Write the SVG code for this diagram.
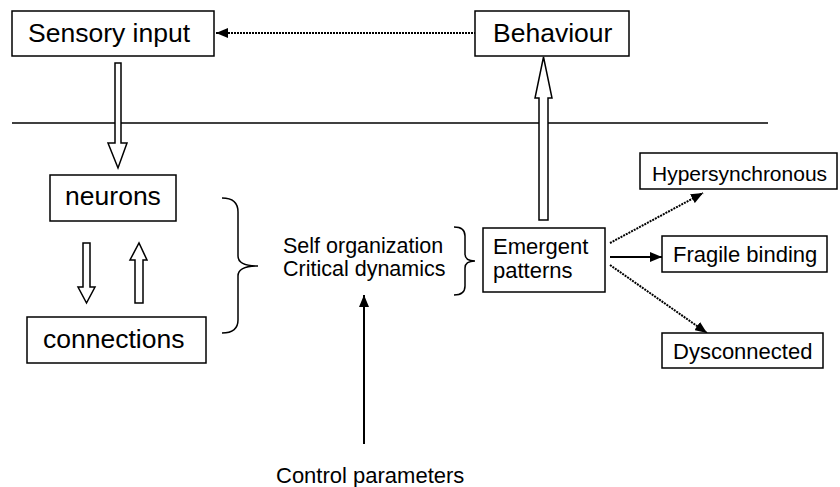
<svg xmlns="http://www.w3.org/2000/svg" width="840" height="487" viewBox="0 0 840 487">
<style>
.box{fill:#fff;stroke:#000;stroke-width:1.5}
.t{font-family:"Liberation Sans",Arial,sans-serif;fill:#000}
.big{font-size:26.5px}
.mid{font-size:22px}
.hollow{fill:#fff;stroke:#000;stroke-width:1.5;stroke-linejoin:miter}
.ln{fill:none;stroke:#000;stroke-width:2}
.dot{fill:none;stroke:#000;stroke-width:2;stroke-dasharray:2 1}
.brace{fill:none;stroke:#000;stroke-width:1.5}
</style>
<defs>
<marker id="ah" markerUnits="userSpaceOnUse" markerWidth="12" markerHeight="10" refX="12" refY="5" orient="auto" viewBox="0 0 12 10">
<path d="M0,0 L12,5 L0,10 z" fill="#000" stroke="none"/>
</marker>
</defs>
<line x1="12" y1="123" x2="768" y2="123" stroke="#000" stroke-width="1.5"/>
<g id="connectors">
<path class="dot" d="M476,33 L216,33" marker-end="url(#ah)"/>
<path class="hollow" d="M115,63 L121,63 L121,143 L127,143 L118,168 L108,143 L115,143 z"/>
<path class="hollow" d="M539,220 L548,220 L548,98 L552,98 L543.5,57 L535,98 L539,98 z"/>
<path class="hollow" d="M83,243 L90,243 L90,287 L95,287 L86.5,303 L78,287 L83,287 z"/>
<path class="hollow" d="M135,303 L143,303 L143,260 L147,260 L139,243 L130,260 L135,260 z"/>
<path class="ln" d="M364,444 L364,295" marker-end="url(#ah)"/>
<path class="ln" d="M610,257 L662,257" marker-end="url(#ah)"/>
<path class="dot" d="M610,243 L703,193" marker-end="url(#ah)"/>
<path class="dot" d="M610,265 L707,333" marker-end="url(#ah)"/>
<path class="brace" d="M222,198 Q238,198 238,212 L238,256 Q238,266 258,266 Q238,266 238,276 L238,320 Q238,333 222,333"/>
<path class="brace" d="M454,227 Q465,227 465,236 L465,254 Q465,261 475,261 Q465,261 465,268 L465,286 Q465,295 454,295"/>
</g>
<g id="sensory">
<rect class="box" x="12" y="11" width="202" height="45"/>
<text class="t big" x="28" y="42">Sensory input</text>
</g>
<g id="behaviour">
<rect class="box" x="475" y="11" width="154" height="45"/>
<text class="t big" x="493" y="42">Behaviour</text>
</g>
<g id="neurons">
<rect class="box" x="50" y="175" width="126" height="46"/>
<text class="t big" x="113" y="205" text-anchor="middle">neurons</text>
</g>
<g id="connections">
<rect class="box" x="27" y="317" width="179" height="46"/>
<text class="t big" x="43" y="348">connections</text>
</g>
<g id="selforg">
<text class="t" style="font-size:21.5px" x="283" y="253">Self organization</text>
<text class="t" style="font-size:21.5px" x="283" y="276">Critical dynamics</text>
</g>
<g id="emergent">
<rect class="box" x="483" y="228" width="122" height="64"/>
<text class="t mid" x="493" y="254">Emergent</text>
<text class="t mid" x="493" y="278">patterns</text>
</g>
<g id="hyper">
<rect class="box" x="640" y="153" width="197" height="36"/>
<text class="t" style="font-size:21px" x="652" y="181">Hypersynchronous</text>
</g>
<g id="fragile">
<rect class="box" x="662" y="236" width="165" height="36"/>
<text class="t mid" x="673" y="262">Fragile binding</text>
</g>
<g id="dysconnected">
<rect class="box" x="662" y="333" width="161" height="35"/>
<text class="t mid" x="673" y="359">Dysconnected</text>
</g>
<g id="control">
<text class="t mid" x="276" y="483">Control parameters</text>
</g>
</svg>
